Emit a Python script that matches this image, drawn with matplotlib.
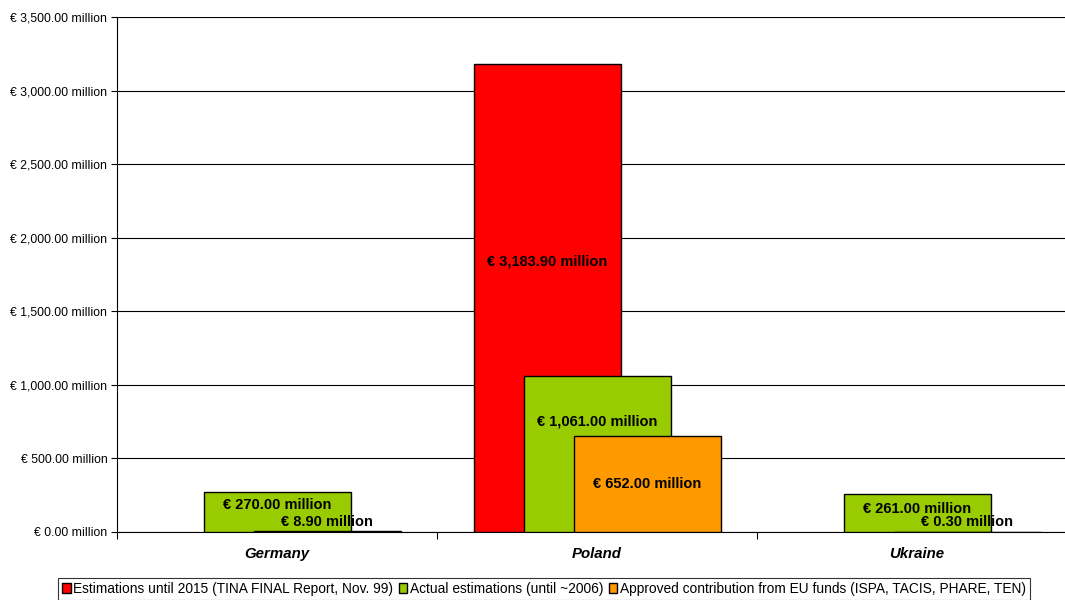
import numpy as np
import matplotlib
matplotlib.use("Agg")
import matplotlib.pyplot as plt
from matplotlib.ticker import MultipleLocator, FuncFormatter, FixedLocator

plt.rcParams['font.family'] = ['Liberation Sans', 'DejaVu Sans']

categories = ["Germany", "Poland", "Ukraine"]
series_names = [
    "Estimations until 2015 (TINA FINAL Report, Nov. 99)",
    "Actual estimations (until ~2006)",
    "Approved contribution from EU funds (ISPA, TACIS, PHARE, TEN)",
]
estimations_2015 = [np.nan, 3183.90, np.nan]
actual_estimations = [270.00, 1061.00, 261.00]
approved_eu = [8.90, 652.00, 0.30]
colors = ["#FF0000", "#99CC00", "#FF9900"]

# label vertical placement (data units) mimicking the original
label_y = [
    [np.nan, 1835, np.nan],
    [183, 754, 156],
    [70, 326, 70],
]

fig = plt.figure(figsize=(10.65, 6.0), dpi=100)
ax = fig.add_axes([117/1065, 68/600, 960/1065, 515/600])

series = [estimations_2015, actual_estimations, approved_eu]
offsets = [-50/320, 0.0, 50/320]
width = 147/320
x = np.arange(len(categories))
for s, vals in enumerate(series):
    ax.bar(x + offsets[s], vals, width=width, color=colors[s], edgecolor="black",
           linewidth=1.0, label=series_names[s], zorder=3 + s)

for s, vals in enumerate(series):
    for i, v in enumerate(vals):
        if np.isnan(v):
            continue
        ax.text(x[i] + offsets[s], label_y[s][i], f"€ {v:,.2f} million",
                ha="center", va="center", fontsize=10.5, fontweight="bold",
                color="black", zorder=10)

ax.set_ylim(0, 3500)
ax.set_xlim(-0.5, 2.5)
ax.yaxis.set_major_locator(MultipleLocator(500))
ax.yaxis.set_major_formatter(FuncFormatter(lambda v, p: f"€ {v:,.2f} million"))
ax.yaxis.grid(True, color="black", linewidth=0.8, zorder=0)
ax.set_axisbelow(True)
ax.tick_params(axis="y", labelsize=8.8, length=4, width=0.8, direction="out", pad=3)

ax.xaxis.set_major_locator(FixedLocator([-0.5, 0.5, 1.5, 2.5]))
ax.xaxis.set_major_formatter(FuncFormatter(lambda v, p: ""))
ax.set_xticks(x, minor=True)
ax.set_xticklabels(categories, minor=True, fontsize=10.8, fontweight="bold", style="italic")
ax.tick_params(axis="x", which="major", length=5, width=0.8, direction="out")
ax.tick_params(axis="x", which="minor", length=0, pad=11)

for side in ["top", "right"]:
    ax.spines[side].set_visible(False)
ax.spines["left"].set_linewidth(0.8)
ax.spines["bottom"].set_linewidth(0.8)

leg = fig.legend(loc="center", bbox_to_anchor=(544/1065, 1 - 589/600), ncol=3,
                 fontsize=9.9, frameon=True, fancybox=False, edgecolor="black",
                 handlelength=0.6, handleheight=0.8, handletextpad=0.2,
                 columnspacing=0.4, borderpad=0.3, borderaxespad=0)
leg.get_frame().set_linewidth(0.8)

fig.savefig("out.png", dpi=100)
